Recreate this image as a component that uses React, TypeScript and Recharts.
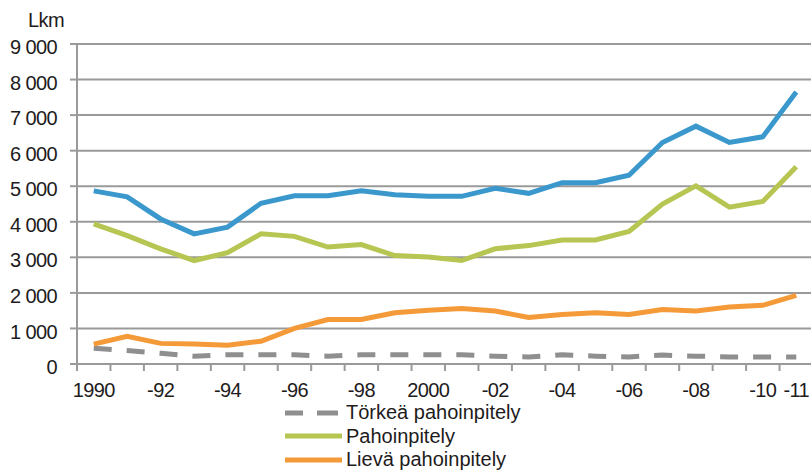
import React from "react";
import { LineChart, Line, XAxis, YAxis, CartesianGrid } from "recharts";

const years = [
  "1990", "1991", "1992", "1993", "1994", "1995", "1996", "1997", "1998", "1999", "2000",
  "2001", "2002", "2003", "2004", "2005", "2006", "2007", "2008", "2009", "2010", "2011",
];
const xLabels = [
  "1990", "", "-92", "", "-94", "", "-96", "", "-98", "", "2000",
  "", "-02", "", "-04", "", "-06", "", "-08", "", "-10", "-11",
];
const yTicks = [0, 1000, 2000, 3000, 4000, 5000, 6000, 7000, 8000, 9000];

// blue line, no legend entry in the original
const total = [
  4870, 4700, 4080, 3660, 3850, 4520, 4730, 4730, 4870, 4760, 4715,
  4715, 4940, 4800, 5100, 5100, 5310, 6230, 6690, 6230, 6390, 7650,
];
const assault = [
  3940, 3610, 3240, 2910, 3130, 3660, 3590, 3290, 3360, 3050, 3010,
  2910, 3240, 3330, 3490, 3490, 3730, 4500, 5010, 4410, 4570, 5550,
];
const minorAssault = [
  560, 780, 580, 560, 530, 640, 1000, 1250, 1250, 1440, 1510,
  1560, 1490, 1310, 1390, 1440, 1390, 1530, 1490, 1600, 1650, 1930,
];
const aggravatedAssault = [
  440, 380, 300, 220, 260, 260, 260, 220, 260, 260, 260,
  260, 220, 200, 260, 220, 200, 250, 220, 200, 200, 200,
];

const data = years.map((year, i) => ({
  year,
  total: total[i],
  assault: assault[i],
  minor: minorAssault[i],
  aggravated: aggravatedAssault[i],
}));

const FONT = "'Liberation Sans', Arial, sans-serif";
const GRID = "#9a9a9a";
const TEXT = "#1e1b1c";

const CHART_W = 830;
const CHART_H = 472;
const Y_AXIS_W = 77;
const RIGHT = 17;
const BAND = (CHART_W - Y_AXIS_W - RIGHT) / years.length;

const formatY = (v: number) =>
  v >= 1000 ? `${Math.floor(v / 1000)} ${String(v % 1000).padStart(3, "0")}` : String(v);

const XTick = (props: any) => {
  const { x, y, index } = props;
  const half = BAND / 2;
  const label = xLabels[index];
  return (
    <g>
      <line x1={x - half} x2={x - half} y1={y} y2={y + 7} stroke={GRID} strokeWidth={2} />
      {index === years.length - 1 && (
        <line x1={x + half} x2={x + half} y1={y} y2={y + 7} stroke={GRID} strokeWidth={2} />
      )}
      {label && (
        <text
          x={x}
          y={y + 33}
          textAnchor="middle"
          fill={TEXT}
          fontSize={20}
          letterSpacing={-0.6}
          fontFamily={FONT}
        >
          {label}
        </text>
      )}
    </g>
  );
};

const legendItems = [
  { name: "Törkeä pahoinpitely", color: "#8f8f8f", dashed: true },
  { name: "Pahoinpitely", color: "#b7c552", dashed: false },
  { name: "Lievä pahoinpitely", color: "#f59a38", dashed: false },
];

const App: React.FC = () => {
  return (
    <div
      style={{
        position: "absolute",
        left: 0,
        top: 0,
        width: 811,
        height: 472,
        overflow: "hidden",
        background: "#fff",
        fontFamily: FONT,
        color: TEXT,
      }}
    >
      <div style={{ position: "absolute", left: 28, top: 9, fontSize: 20, letterSpacing: -0.6 }}>Lkm</div>

      <LineChart
        width={CHART_W}
        height={CHART_H}
        data={data}
        margin={{ top: 44, right: RIGHT, left: 0, bottom: 0 }}
      >
        <CartesianGrid vertical={false} stroke={GRID} strokeWidth={2} />
        <XAxis
          dataKey="year"
          interval={0}
          height={CHART_H - 364}
          padding={{ left: BAND / 2, right: BAND / 2 }}
          tickSize={0}
          tickMargin={0}
          tickLine={false}
          axisLine={{ stroke: GRID, strokeWidth: 2 }}
          tick={<XTick />}
        />
        <YAxis
          width={Y_AXIS_W}
          domain={[0, 9000]}
          ticks={yTicks}
          interval={0}
          tickSize={7}
          tickMargin={13}
          tickLine={{ stroke: GRID, strokeWidth: 2 }}
          axisLine={{ stroke: GRID, strokeWidth: 2 }}
          tickFormatter={formatY}
          tick={{ fill: TEXT, fontSize: 20, fontFamily: FONT, letterSpacing: -0.6, dy: 3 }}
        />
        <Line
          dataKey="aggravated"
          stroke="#8f8f8f"
          strokeWidth={5}
          strokeDasharray="18 15"
          dot={false}
          isAnimationActive={false}
        />
        <Line dataKey="minor" stroke="#f59a38" strokeWidth={5} dot={false} isAnimationActive={false} />
        <Line dataKey="assault" stroke="#b7c552" strokeWidth={5} dot={false} isAnimationActive={false} />
        <Line dataKey="total" stroke="#3a98cd" strokeWidth={5} dot={false} isAnimationActive={false} />
      </LineChart>

      {/* Legend */}
      <div style={{ position: "absolute", left: 285, top: 401, fontSize: 20 }}>
        {legendItems.map((item) => (
          <div key={item.name} style={{ display: "flex", alignItems: "center", height: 23.5 }}>
            <svg width={58} height={10} style={{ marginRight: 3 }}>
              {item.dashed ? (
                <>
                  <line x1={0} x2={18} y1={5} y2={5} stroke={item.color} strokeWidth={5} />
                  <line x1={32} x2={53} y1={5} y2={5} stroke={item.color} strokeWidth={5} />
                </>
              ) : (
                <line x1={0} x2={57} y1={5} y2={5} stroke={item.color} strokeWidth={5} />
              )}
            </svg>
            <span>{item.name}</span>
          </div>
        ))}
      </div>
    </div>
  );
};

export default App;
